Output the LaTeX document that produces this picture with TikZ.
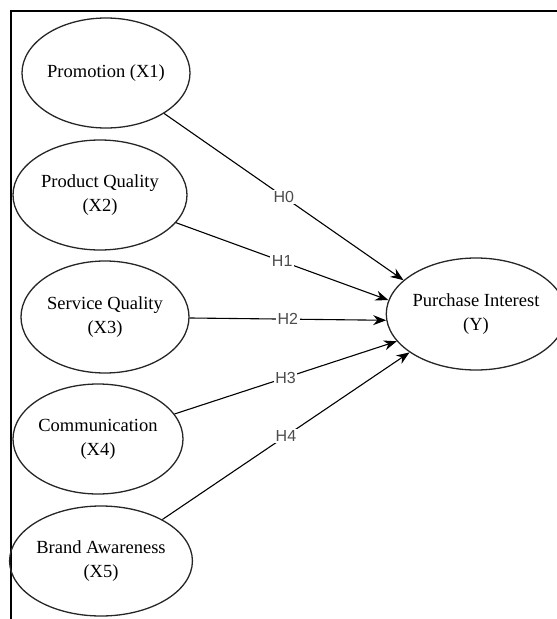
\documentclass[tikz,border=0pt]{standalone}
\usepackage{fontspec}
\setmainfont{Liberation Serif}
\newfontfamily\hypfont{Liberation Sans}
\usetikzlibrary{arrows.meta,positioning,shapes.geometric}

\begin{document}
\begin{tikzpicture}[->, >={Stealth[length=13pt,width=10pt]}, line width=1.1pt, node distance=122pt]
\tikzstyle{construct}=[ellipse,draw=black!85,line width=1.3pt,inner sep=0pt,minimum width=168pt,minimum height=110pt,align=center,font=\fontsize{18.5}{24}\selectfont]
\tikzstyle{hyp}=[fill=white,inner sep=1.5pt,text=black!70,font=\hypfont\fontsize{16}{18}\selectfont]
\useasboundingbox (-106pt,73pt) rectangle (451pt,-546pt);
\draw[-,line width=2pt] (451pt,62pt) -- (-95pt,62pt) -- (-95pt,-546pt);
\node[construct]    (X1)                                         {Promotion (X1)};
\node[construct]    (X2)[below of=X1,xshift=-6pt,minimum width=174pt] {Product Quality\\(X2)};
\node[construct]    (X3)[below of=X2,xshift=5pt,minimum height=112pt] {Service Quality\\(X3)};
\node[construct]    (X4)[below of=X3,xshift=-7pt,minimum width=170pt] {Communication\\(X4)};
\node[construct]    (X5)[below of=X4,xshift=3pt,minimum width=176pt]  {Brand Awareness\\(X5)};
\node[construct]    (Y)[right of=X3,node distance=371pt,yshift=3pt,minimum width=162pt,minimum height=112pt] {Purchase Interest\\(Y)};
\path
(X1) edge    node[hyp]{H0}    (Y.155)
(X2) edge    node[hyp]{H1}    (Y.171)
(X3) edge    node[hyp]{H2}    (Y.184)
(X4) edge    node[hyp]{H3}    (Y.199)
(X5) edge    node[hyp]{H4}    (Y.210);
\end{tikzpicture}
\end{document}
